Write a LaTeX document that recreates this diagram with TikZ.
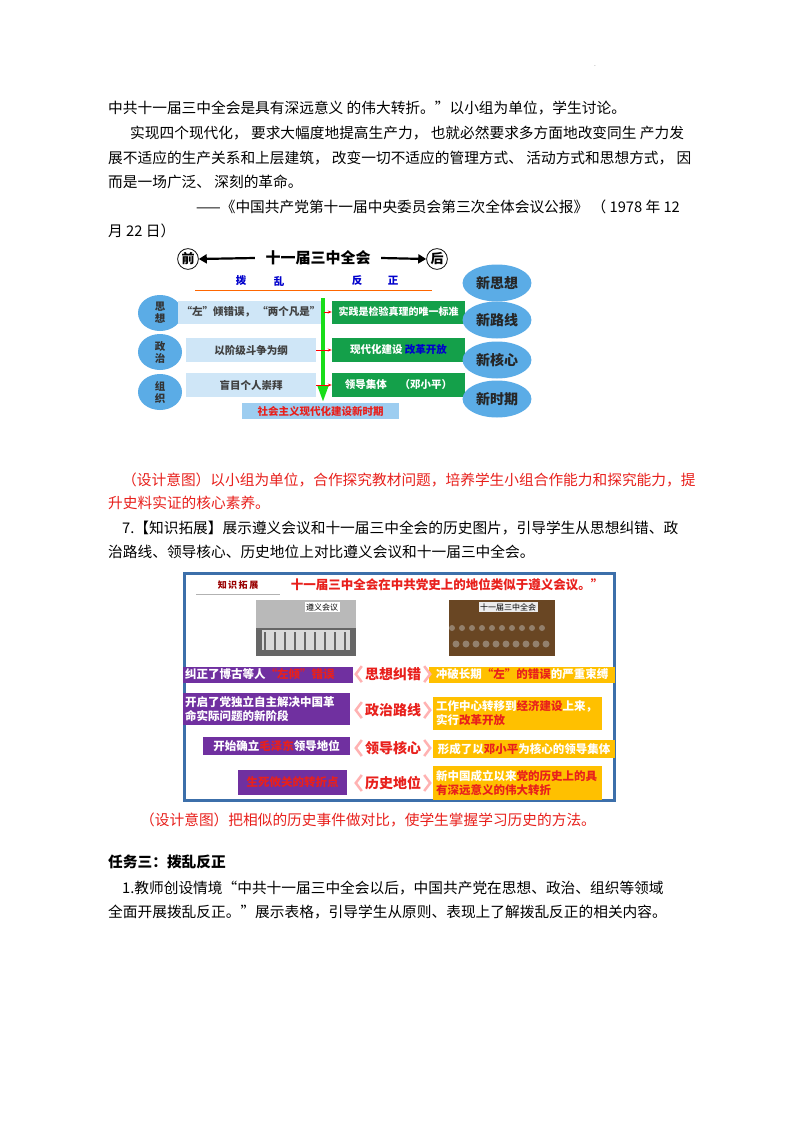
\documentclass[tikz,border=0pt]{standalone}
\usepackage{fontspec}
\setmainfont{Noto Sans CJK SC}
\usetikzlibrary{arrows.meta}
\definecolor{lblue}{HTML}{CFE6F7}
\definecolor{eblue}{HTML}{5BACE6}
\definecolor{gbox}{HTML}{14A04A}
\definecolor{purp}{HTML}{7030A0}
\definecolor{orng}{HTML}{FFC000}
\definecolor{redt}{HTML}{E8201C}
\definecolor{frame}{HTML}{3C6FAA}
\tikzset{
 body/.style={anchor=west,inner sep=0pt,font=\fontsize{14.7}{17}\selectfont},
 lbox/.style={fill=lblue,draw=none},
 gbx/.style={fill=gbox,draw=none},
 ell/.style={ellipse,fill=eblue,draw=none},
 pbox/.style={fill=purp,draw=none},
 obox/.style={fill=orng,draw=none},
 small/.style={font=\fontsize{10.5}{12}\selectfont\bfseries},
 mid/.style={font=\fontsize{14}{16}\selectfont\bfseries,text=redt,inner sep=1pt},
 dtext/.style={font=\fontsize{10.5}{12}\selectfont\bfseries},
}
\usetikzlibrary{shapes.geometric}
\begin{document}
\begin{tikzpicture}[x=1pt,y=-1pt]
\useasboundingbox (0,0) rectangle (800,1132);
\fill[white] (0,0) rectangle (800,1132);
\node[inner sep=0pt,font=\tiny] (dot) at (595,66) {.};
% text
\node[body] (t1) at (108,108) {中共十一届三中全会是具有深远意义 的伟大转折。”以小组为单位，学生讨论。};
\node[body] (t2) at (130,133) {实现四个现代化， 要求大幅度地提高生产力， 也就必然要求多方面地改变同生 产力发};
\node[body] (t3) at (108,158) {展不适应的生产关系和上层建筑， 改变一切不适应的管理方式、 活动方式和思想方式， 因};
\node[body] (t4) at (108,182) {而是一场广泛、 深刻的革命。};
\node[body] (t5) at (196,207) {——《中国共产党第十一届中央委员会第三次全体会议公报》 （ 1978 年 12};
\node[body] (t6) at (108,231) {月 22 日）};
% diagram 1
\node[circle,draw,line width=0.8pt,inner sep=1pt,font=\fontsize{13}{14}\selectfont\bfseries] (qian) at (188,259) {前};
\node[circle,draw,line width=0.8pt,inner sep=1pt,font=\fontsize{13}{14}\selectfont\bfseries] (hou) at (437,259) {后};
\node[font=\fontsize{15}{17}\selectfont\bfseries] (meet) at (318,258) {十一届三中全会};
\draw[-{Triangle[length=8pt,width=9pt]},line width=2.2pt] (meet.west)++(-7,0) -- (qian.east);
\draw[-{Triangle[length=8pt,width=9pt]},line width=2.2pt] (meet.east)++(7,0) -- (hou.west);
\foreach \c/\xx in {拨/241,乱/279,反/357,正/393}{\node[small,text=blue!80!black] at (\xx,281) {\c};}
\draw[orange!80!red,line width=1pt] (195,290) -- (432,290);
\foreach \n/\yy/\a/\b in {a/313/思/想,b/352/政/治,c/392/组/织}{
 \node[ell,minimum width=44pt,minimum height=36pt] (le\n) at (160,\yy) {};
 \node[small,align=center,font=\fontsize{10.5}{12}\selectfont\bfseries,text=black!80] at (le\n) {\a\\\b};}
\node[lbox,minimum width=130pt,minimum height=23pt,dtext,text=black!75] (la) at (251,312) {“左”倾错误， “两个凡是”};
\node[lbox,minimum width=130pt,minimum height=24pt,dtext,text=black!75] (lb) at (251,350) {以阶级斗争为纲};
\node[lbox,minimum width=130pt,minimum height=24pt,dtext,text=black!75] (lc) at (251,385) {盲目个人崇拜};
\node[gbx,minimum width=133pt,minimum height=23pt,dtext,font=\fontsize{10}{12}\selectfont\bfseries,text=white] (ga) at (398.5,312) {实践是检验真理的唯一标准};
\node[gbx,minimum width=133pt,minimum height=24pt,dtext,text=white] (gb) at (398.5,350) {现代化建设 \textcolor{blue!80!black}{改革开放}};
\node[gbx,minimum width=133pt,minimum height=24pt,dtext,text=white] (gc) at (398.5,385) {领导集体 \quad （邓小平）};
\coordinate (vt) at (323,298);
\coordinate (vb) at (323,402);
\draw[green!85!black!90!white,line width=3.5pt,-{Triangle[length=16pt,width=10pt]}] (vt) -- (vb);
\foreach \n in {a,b,c}{\draw[red,line width=0.8pt,-{Stealth[length=4pt]}] (l\n.east) -- (g\n.west);}
\node[lbox,fill=eblue!60,minimum width=157pt,minimum height=14pt,font=\fontsize{10.5}{11}\selectfont\bfseries,text=redt] (era) at (320.5,411) {社会主义现代化建设新时期};
\foreach \n/\yy/\t in {1/283/新思想,2/320/新路线,3/360/新核心,4/399/新时期}{
 \node[ell,minimum width=64pt,minimum height=37pt,font=\fontsize{14}{16}\selectfont\bfseries,text=black!85] (re\n) at (497,\yy) {\t};}
% text
\node[body,text=redt] (d1) at (122,480) {（设计意图）以小组为单位，合作探究教材问题，培养学生小组合作能力和探究能力，提};
\node[body,text=redt] (d2) at (108,503) {升史料实证的核心素养。};
\node[body] (k1) at (122,528) {7.【知识拓展】展示遵义会议和十一届三中全会的历史图片，引导学生从思想纠错、政};
\node[body] (k2) at (108,552) {治路线、领导核心、历史地位上对比遵义会议和十一届三中全会。};
% diagram 2
\draw[frame,line width=3pt,fill=white] (184,573) rectangle (614,800);
\node[font=\fontsize{9}{10}\selectfont\bfseries,text=red!60!black] (zs) at (238,585) {知\,识\,拓\,展};
\draw[gray!60,line width=0.7pt] (196,594) -- (280,594);
\node[font=\fontsize{12.5}{14}\selectfont\bfseries,text=redt] (title) at (447,585) {十一届三中全会在中共党史上的地位类似于遵义会议。”};
\fill[gray!55] (256,600) rectangle (356,656);
\fill[gray!80!black] (256,628) rectangle (356,656);
\fill[gray!30] (262,630) rectangle (350,650);
\foreach \i in {0,...,8}{\fill[gray!80!black] (264+\i*10,632) rectangle (266+\i*10,650);}
\node[fill=white,inner sep=1.5pt,font=\fontsize{8}{9}\selectfont] (p1) at (322,607) {遵义会议};
\fill[brown!55!black] (449,600) rectangle (555,656);
\foreach \i in {0,...,9}{\fill[brown!30!gray] (452+\i*10,628) circle (3);\fill[brown!30!gray] (456+\i*10,644) circle (3.5);}
\node[fill=white!85!gray,inner sep=1.5pt,font=\fontsize{8}{9}\selectfont] (p2) at (508,607) {十一届三中全会};
\tikzset{pt/.style={font=\fontsize{11.5}{14}\selectfont\bfseries,text=white,align=left,inner sep=2pt}}
\node[pbox,minimum width=170pt,minimum height=16pt,pt,text width=166pt] (pa) at (268,674.5) {纠正了博古等人\textcolor{redt}{“左倾”错误}};
\node[pbox,minimum width=167pt,minimum height=32pt,pt,text width=163pt] (pb) at (266.5,709) {开启了党独立自主解决中国革\\命实际问题的新阶段};
\node[pbox,minimum width=147pt,minimum height=18pt,pt] (pc) at (276.5,746) {开始确立\textcolor{redt}{毛泽东}领导地位};
\node[pbox,minimum width=109pt,minimum height=25pt,pt] (pd) at (292.5,782.5) {\textcolor{redt}{生死攸关的转折点}};
\node[obox,minimum width=186pt,minimum height=16pt,pt] (oa) at (522,674.5) {冲破长期\textcolor{redt}{“左”的错误}的严重束缚};
\node[obox,minimum width=169pt,minimum height=33pt,pt,text width=163pt] (ob) at (517.5,713) {工作中心转移到\textcolor{redt}{经济建设}上来，\\实行\textcolor{redt}{改革开放}};
\node[obox,minimum width=182pt,minimum height=18pt,pt] (oc) at (524,749) {形成了以\textcolor{redt}{邓小平}为核心的领导集体};
\node[obox,minimum width=169pt,minimum height=34pt,pt,text width=163pt] (od) at (517.5,783) {新中国成立以来\textcolor{redt}{党的历史上的具}\\\textcolor{redt}{有深远意义的伟大转折}};
\foreach \n/\yy/\t in {a/674/思想纠错,b/710/政治路线,c/748/领导核心,d/783/历史地位}{
 \node[mid] (m\n) at (393,\yy) {\t};
 \draw[red!30,line width=2.5pt] (m\n.north west)++(-2,0) -- ++(-6,8) -- ++(6,8);
 \draw[red!30,line width=2.5pt] (m\n.north east)++(2,0) -- ++(6,8) -- ++(-6,8);}
% text
\node[body,text=redt] (d3) at (140,820) {（设计意图）把相似的历史事件做对比，使学生掌握学习历史的方法。};
\node[body,font=\fontsize{14.7}{17}\selectfont\bfseries] (r1) at (108,862) {任务三：拨乱反正};
\node[body] (r2) at (122,888) {1.教师创设情境“中共十一届三中全会以后，中国共产党在思想、政治、组织等领域};
\node[body] (r3) at (108,912) {全面开展拨乱反正。”展示表格，引导学生从原则、表现上了解拨乱反正的相关内容。};
\end{tikzpicture}
\end{document}
